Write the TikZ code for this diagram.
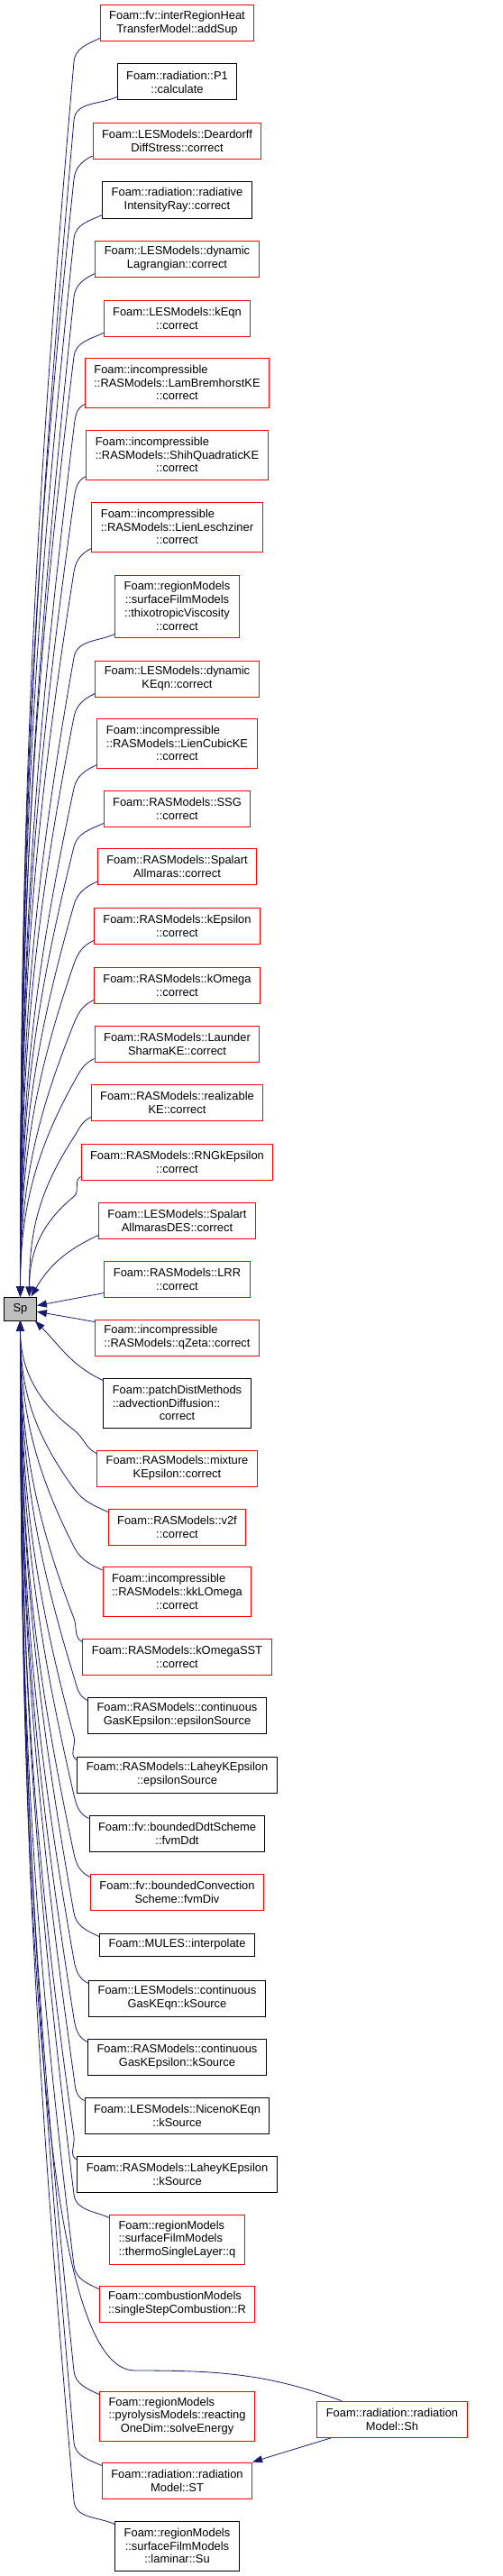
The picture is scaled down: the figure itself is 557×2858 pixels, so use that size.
\documentclass[tikz,border=0pt]{standalone}
\usepackage{fontspec}
\newfontfamily\doxfont{Liberation Sans}
\usepackage{tikz}
\usetikzlibrary{arrows.meta, calc}
\definecolor{callblue}{RGB}{25,25,112}
\definecolor{spgray}{RGB}{191,191,191}
\newsavebox\lftbox
\newcommand\lft[2]{\sbox\lftbox{#2}\makebox[\wd\lftbox][l]{#1}}
\tikzstyle{fn}        = [draw=black, fill=white, line width=1pt, align=center,
                         inner xsep=10pt, inner ysep=2pt, minimum height=40pt,
                         font=\doxfont\fontsize{12.9}{14.8}\selectfont]
\tikzstyle{fnred}     = [fn, draw=red]
\tikzstyle{callarrow} = [draw=callblue, line width=0.8pt, -{Triangle[length=11pt,width=8pt]}]

\begin{document}
\begin{tikzpicture}[x=1pt, y=1pt]
  \useasboundingbox (0,0) rectangle (557,-2858);

  % --- the called function ---
  \node[fn, fill=spgray, minimum height=26pt] (Sp) at (22.5,-1452) {Sp};

  % --- callers, upper half ---
  \node[fnred] (addSup) at (196.5,-26) {Foam::fv::interRegionHeat\\TransferModel::addSup};
  \node[fn] (pOne) at (196.5,-91) {Foam::radiation::P1\\::calculate};
  \node[fnred] (deardorff) at (196.5,-156.5) {Foam::LESModels::Deardorff\\DiffStress::correct};
  \node[fn] (radRay) at (196.5,-222) {Foam::radiation::radiative\\IntensityRay::correct};
  \node[fnred] (dynLag) at (196.5,-287) {Foam::LESModels::dynamic\\Lagrangian::correct};
  \node[fnred] (kEqn) at (196.5,-353) {Foam::LESModels::kEqn\\::correct};
  \node[fnred, minimum height=55pt] (lamBrem) at (196.5,-424.5)
    {\lft{Foam::incompressible}{::RASModels::LamBremhorstKE}\\::RASModels::LamBremhorstKE\\::correct};
  \node[fnred, minimum height=55pt] (shih) at (196.5,-504.5)
    {\lft{Foam::incompressible}{::RASModels::ShihQuadraticKE}\\::RASModels::ShihQuadraticKE\\::correct};
  \node[fnred, minimum height=55pt] (lienLes) at (196.5,-584.5)
    {\lft{Foam::incompressible}{::RASModels::LienLeschziner}\\::RASModels::LienLeschziner\\::correct};
  \node[fnred, minimum height=69pt] (thixo) at (196.5,-672.5)
    {Foam::regionModels\\::surfaceFilmModels\\::thixotropicViscosity\\::correct};
  \node[fnred] (dynKEqn) at (196.5,-753) {Foam::LESModels::dynamic\\KEqn::correct};
  \node[fnred, minimum height=55pt] (lienCubic) at (196.5,-824.5)
    {\lft{Foam::incompressible}{::RASModels::LienCubicKE}\\::RASModels::LienCubicKE\\::correct};
  \node[fnred] (ssg) at (196.5,-897) {Foam::RASModels::SSG\\::correct};
  \node[fnred] (spalart) at (196.5,-961.5) {Foam::RASModels::Spalart\\Allmaras::correct};
  \node[fnred] (kEps) at (196.5,-1027) {Foam::RASModels::kEpsilon\\::correct};
  \node[fnred] (kOmega) at (196.5,-1093) {Foam::RASModels::kOmega\\::correct};
  \node[fnred] (launder) at (196.5,-1158) {Foam::RASModels::Launder\\SharmaKE::correct};
  \node[fnred] (realizable) at (196.5,-1223) {Foam::RASModels::realizable\\KE::correct};
  \node[fnred] (rng) at (196.5,-1289) {Foam::RASModels::RNGkEpsilon\\::correct};
  \node[fnred] (saDES) at (196.5,-1354) {Foam::LESModels::Spalart\\AllmarasDES::correct};
  \node[fnred] (lrr) at (196.5,-1419) {Foam::RASModels::LRR\\::correct};

  % --- callers, lower half ---
  \node[fnred] (qZeta) at (196.5,-1484)
    {\lft{Foam::incompressible}{::RASModels::qZeta::correct}\\::RASModels::qZeta::correct};
  \node[fn, minimum height=55pt] (patchDist) at (196.5,-1556.5)
    {Foam::patchDistMethods\\\lft{::advectionDiffusion::}{Foam::patchDistMethods}\\correct};
  \node[fnred] (mixture) at (196.5,-1629) {Foam::RASModels::mixture\\KEpsilon::correct};
  \node[fnred] (vtwof) at (196.5,-1694) {Foam::RASModels::v2f\\::correct};
  \node[fnred, minimum height=55pt] (kkLOmega) at (196.5,-1766)
    {\lft{Foam::incompressible}{::RASModels::kkLOmega}\\::RASModels::kkLOmega\\::correct};
  \node[fnred] (kOmegaSST) at (196.5,-1838) {Foam::RASModels::kOmegaSST\\::correct};
  \node[fn] (gasEpsSrc) at (196.5,-1903) {Foam::RASModels::continuous\\GasKEpsilon::epsilonSource};
  \node[fn] (laheyEpsSrc) at (196.5,-1969) {Foam::RASModels::LaheyKEpsilon\\::epsilonSource};
  \node[fn] (ddt) at (196.5,-2034) {Foam::fv::boundedDdtScheme\\::fvmDdt};
  \node[fnred] (conv) at (196.5,-2099) {Foam::fv::boundedConvection\\Scheme::fvmDiv};
  \node[fn, minimum height=25pt] (mules) at (196.5,-2157.5) {Foam::MULES::interpolate};
  \node[fn] (gasKEqnSrc) at (196.5,-2217) {Foam::LESModels::continuous\\GasKEqn::kSource};
  \node[fn] (gasKEpsSrc) at (196.5,-2282) {Foam::RASModels::continuous\\GasKEpsilon::kSource};
  \node[fn] (niceno) at (196.5,-2347) {Foam::LESModels::NicenoKEqn\\::kSource};
  \node[fn] (laheyKSrc) at (196.5,-2412.5) {Foam::RASModels::LaheyKEpsilon\\::kSource};
  \node[fnred, minimum height=55pt, align=left] (thermoQ) at (196.5,-2484.5)
    {Foam::regionModels\\::surfaceFilmModels\\::thermoSingleLayer::q};
  \node[fnred, align=left] (singleStep) at (196.5,-2556)
    {Foam::combustionModels\\::singleStepCombustion::R};
  \node[fnred, minimum height=55pt] (reacting) at (196.5,-2680.5)
    {\lft{Foam::regionModels}{::pyrolysisModels::reacting}\\::pyrolysisModels::reacting\\OneDim::solveEnergy};
  \node[fnred] (radST) at (196.5,-2752) {Foam::radiation::radiation\\Model::ST};
  \node[fn, minimum height=55pt] (laminarSu) at (196.5,-2824.5)
    {Foam::regionModels\\::surfaceFilmModels\\::laminar::Su};
  \node[fnred] (radSh) at (435,-2684) {Foam::radiation::radiation\\Model::Sh};

  % bend line of the call bundle
  \coordinate (bx) at (82,0);
  \coordinate (shBend) at (150,-2630);

  % calls from above
  \foreach \n/\a/\d [evaluate=\a as \b using \a-180] in {addSup/265/534, pOne/265/508,
      deardorff/264/483, radRay/264/457, dynLag/264/432, kEqn/263/406, lamBrem/263/375,
      shih/262/344, lienLes/261/313, thixo/260/276, dynKEqn/259/250, lienCubic/258/219,
      ssg/256/194, spalart/254/168, kEps/251/143, kOmega/248/117, launder/241/92}
    \draw[callarrow] ([yshift=4pt]\n.south west) to[out=205, in=\b]
      ($(bx |- \n.south)+(0,-22)$) .. controls +(\a:\d) and +(90:\d) .. (Sp.north);
  \foreach \n/\a [evaluate=\a as \b using \a-180] in {realizable/237, rng/219}
    \draw[callarrow] ([yshift=4pt]\n.south west) to[out=205, in=\b]
      ($(bx |- \n.south)+(0,-18)$) to[out=\a, in=90] ([xshift=10pt]Sp.north);
  \draw[callarrow] ([yshift=4pt]saDES.south west) to[out=205, in=60] ([xshift=12pt]Sp.north);
  \draw[callarrow] ([yshift=5pt]lrr.south west) -- (Sp);

  % calls from below
  \draw[callarrow] ([yshift=-3pt]qZeta.north west) -- (Sp);
  \draw[callarrow] ([yshift=-3pt]patchDist.north west) to[out=155, in=-45] ([xshift=-2pt]Sp.south east);
  \foreach \n/\a/\d [evaluate=\a as \b using \a-180] in {mixture/143/52, vtwof/126/76,
      kkLOmega/117/97, kOmegaSST/111/128, gasEpsSrc/107/153, laheyEpsSrc/105/179,
      ddt/103/204, conv/102/230, mules/100/255, gasKEqnSrc/100/276, gasKEpsSrc/99/301,
      niceno/98/326, laheyKSrc/98/352, thermoQ/97/377, singleStep/97/408,
      reacting/96/454, radST/95/484, laminarSu/95/510}
    \draw[callarrow] ([yshift=-4pt]\n.north west) to[out=155, in=\b]
      ($(bx |- \n.north)+(0,22)$) .. controls +(\a:\d) and +(270:\d) .. (Sp.south);

  % Sh calls Sp and ST
  \draw[callarrow] (radSh) to[out=160, in=0] (shBend)
    .. controls +(180:60) and +(270:1000) .. (Sp.south);
  \draw[callarrow] (radSh) -- (radST.north east);
\end{tikzpicture}
\end{document}
